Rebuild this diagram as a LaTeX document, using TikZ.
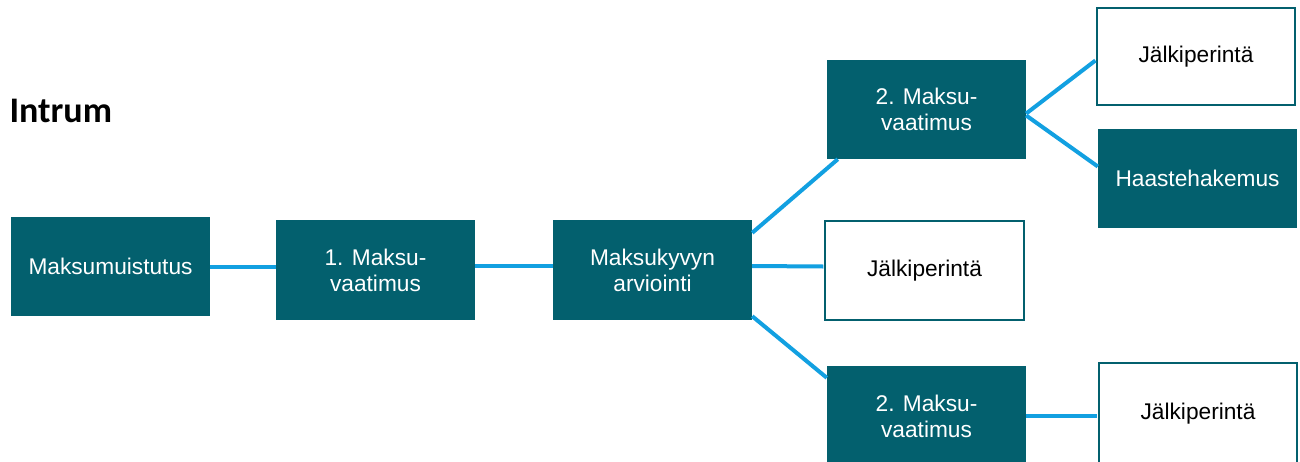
\documentclass[tikz,border=0pt]{standalone}
\usepackage{fontspec}
\setmainfont{Liberation Sans}
\newfontfamily\titlefont{Carlito}
\usetikzlibrary{calc}
\definecolor{teal}{RGB}{3,96,110}
\definecolor{linkblue}{RGB}{18,160,225}
\tikzset{
  box/.style={rectangle, fill=teal, text=white, inner sep=0pt, align=center,
    font=\fontsize{22.7}{26}\selectfont},
  wbox/.style={rectangle, draw=teal, line width=1.6pt, fill=white, text=black, inner sep=0pt,
    align=center, font=\fontsize{22.7}{26}\selectfont},
  link/.style={draw=linkblue, line width=4pt}
}
\begin{document}
\begin{tikzpicture}[x=1pt,y=-1pt]
\useasboundingbox[fill=white] (0,0) rectangle (1300,461);
\node[anchor=west, font=\titlefont\bfseries\fontsize{36}{40}\selectfont] (title) at (6,111) {Intrum};
\node[box, minimum width=199pt, minimum height=99pt] (m1) at (110.5,266.5) {Maksumuistutus};
\node[box, minimum width=199pt, minimum height=100pt] (m2) at (375.5,270) {1. Maksu-\\vaatimus};
\node[box, minimum width=199pt, minimum height=100pt] (m3) at (652.5,270) {Maksukyvyn\\arviointi};
\node[box, minimum width=199pt, minimum height=99pt] (t2) at (926.5,109.5) {2. Maksu-\\vaatimus};
\node[wbox, minimum width=199pt, minimum height=99pt] (j1) at (924.5,270.5) {Jälkiperintä};
\node[box, minimum width=199pt, minimum height=100pt] (b2) at (926.5,416) {2. Maksu-\\vaatimus};
\node[wbox, minimum width=198pt, minimum height=97pt] (jt) at (1196,56.5) {Jälkiperintä};
\node[box, minimum width=199pt, minimum height=99pt] (h) at (1197.5,178.5) {Haastehakemus};
\node[wbox, minimum width=198pt, minimum height=102pt] (jb) at (1198,414) {Jälkiperintä};
\draw[link] (m1.east) -- (m1.east -| m2.west);
\draw[link] ($(m2.east)+(0,-4)$) -- ($(m3.west)+(0,-4)$);
\draw[link] ($(m3.north east)+(0,13)$) -- ($(t2.south west)+(11,0)$);
\draw[link] ($(m3.east)+(0,-4)$) -- ($(j1.west)+(-0.8,-4)$);
\draw[link] ($(m3.south east)+(0,-4)$) -- ($(b2.north west)+(0,12)$);
\draw[link] ($(t2.east)+(0,4)$) -- ($(jt.west)+(-0.8,4)$);
\draw[link] ($(t2.east)+(0,6)$) -- ($(h.west)+(0,-12)$);
\draw[link] (b2.east) -- ($(jb.west)+(-0.8,2)$);
\end{tikzpicture}
\end{document}
